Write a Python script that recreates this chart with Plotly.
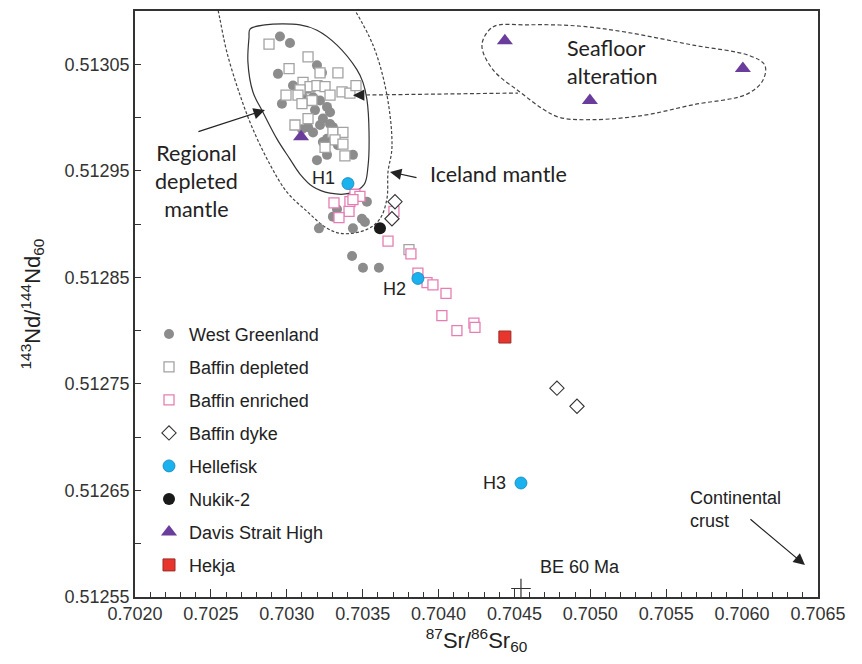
import plotly.graph_objects as go

# ---- Sample compositions (87Sr/86Sr at 60 Ma, 143Nd/144Nd at 60 Ma) ----
wg_sr = [0.702955, 0.703021, 0.703199, 0.702942, 0.703232, 0.703041, 0.70314, 0.7031,
         0.703173, 0.703219, 0.702968, 0.703265, 0.703186, 0.703285, 0.703238, 0.703219,
         0.703285, 0.703304, 0.70314, 0.7031, 0.703173, 0.703265, 0.703318, 0.703238,
         0.703337, 0.703265, 0.703436, 0.703199, 0.703528, 0.703331, 0.703304, 0.703495,
         0.703515, 0.703212, 0.703436, 0.70343, 0.703502, 0.703607]
wg_nd = [0.513076, 0.51307, 0.513049, 0.513041, 0.513042, 0.51303, 0.513027, 0.513021,
         0.513019, 0.513016, 0.513013, 0.51301, 0.513007, 0.513005, 0.512999, 0.512993,
         0.512994, 0.512991, 0.512991, 0.512989, 0.512986, 0.51298, 0.512981, 0.512977,
         0.512974, 0.512965, 0.512965, 0.51296, 0.512921, 0.512914, 0.512907, 0.512905,
         0.512902, 0.512896, 0.512896, 0.51287, 0.512859, 0.512859]

bd_sr = [0.702883, 0.70314, 0.703015, 0.703219, 0.703337, 0.703107, 0.703153, 0.703199,
         0.703252, 0.703087, 0.702995, 0.703074, 0.703166, 0.703285, 0.7031, 0.703364,
         0.703416, 0.703456, 0.70314, 0.703054, 0.703304, 0.70337, 0.703318, 0.703252,
         0.70337, 0.703383, 0.703805]
bd_nd = [0.513069, 0.513057, 0.513046, 0.513042, 0.513042, 0.513033, 0.513029, 0.51303,
         0.513029, 0.513026, 0.513021, 0.513021, 0.513016, 0.513021, 0.513013, 0.513024,
         0.513023, 0.51303, 0.512999, 0.512993, 0.512986, 0.512986, 0.512979, 0.512972,
         0.512975, 0.512964, 0.512876]

be_sr = [0.703311, 0.703416, 0.703449, 0.703482, 0.703436, 0.70341, 0.703344, 0.703706,
         0.703667, 0.703818, 0.703864, 0.703924, 0.703963, 0.704049, 0.704022, 0.704121,
         0.704233, 0.70424]
be_nd = [0.51292, 0.512921, 0.512928, 0.512926, 0.512923, 0.512912, 0.512906, 0.512912,
         0.512884, 0.512872, 0.512854, 0.512845, 0.512843, 0.512835, 0.512814, 0.5128,
         0.512807, 0.512803]

dyke_sr = [0.703713, 0.703693, 0.70478, 0.704912]
dyke_nd = [0.512921, 0.512905, 0.512746, 0.512729]

hf_sr = [0.703403, 0.703864, 0.704543]
hf_nd = [0.512938, 0.512849, 0.512657]
hf_labels = ["H1", "H2", "H3"]

nk_sr = [0.703614]
nk_nd = [0.512896]

ds_sr = [0.704437, 0.704997, 0.706005, 0.703094]
ds_nd = [0.513072, 0.513016, 0.513046, 0.512982]

hk_sr = [0.704437]
hk_nd = [0.512794]

bulk_earth_sr = [0.704543]
bulk_earth_nd = [0.512558]

# ---- Field outlines ----
depleted_sr = [0.702758, 0.702856, 0.703087, 0.703199, 0.703331, 0.703462, 0.703502, 0.703528,
               0.703542, 0.703535, 0.703509, 0.703416, 0.703285, 0.703173, 0.703087, 0.703021,
               0.702935, 0.702843, 0.702777, 0.702744, 0.702751, 0.702758]
depleted_nd = [0.513083, 0.513087, 0.513087, 0.513082, 0.513068, 0.513045, 0.513033, 0.513017,
               0.512986, 0.512954, 0.512937, 0.512929, 0.512929, 0.512935, 0.512947, 0.512961,
               0.51298, 0.513005, 0.513024, 0.513052, 0.513075, 0.513083]

iceland_sr = [0.702535, 0.70256, 0.702606, 0.702692, 0.702777, 0.702889, 0.703001, 0.703133,
              0.703265, 0.70337, 0.703528, 0.703614, 0.70366, 0.703667, 0.703693, 0.70366,
              0.703568, 0.70341]
iceland_nd = [0.51311, 0.513092, 0.513061, 0.513021, 0.512989, 0.512956, 0.51293, 0.512912,
              0.512896, 0.512891, 0.512895, 0.512905, 0.512924, 0.512949, 0.512972, 0.513021,
              0.513068, 0.51311]

seafloor_sr = [0.704286, 0.704358, 0.704582, 0.704912, 0.705241, 0.705676, 0.706051, 0.70615,
               0.706137, 0.706032, 0.705676, 0.705347, 0.705017, 0.7048, 0.704688, 0.704536,
               0.704358, 0.704286]
seafloor_nd = [0.513068, 0.513085, 0.513087, 0.513086, 0.51308, 0.513068, 0.513058, 0.513049,
               0.513035, 0.513022, 0.513012, 0.513002, 0.512998, 0.513, 0.513008, 0.513024,
               0.513045, 0.513068]

link_sr = [0.703436, 0.704523]
link_nd = [0.513021, 0.513023]

# ---- Axes ----
x_ticks = [0.7020, 0.7025, 0.7030, 0.7035, 0.7040, 0.7045, 0.7050, 0.7055, 0.7060, 0.7065]
y_ticks = [0.51255, 0.51265, 0.51275, 0.51285, 0.51295, 0.51305]

ARIAL = "Liberation Sans, Arial, sans-serif"
SOFT = "Lato, Calibri, sans-serif"
INK = "#222222"

fig = go.Figure()

# field outlines
fig.add_trace(go.Scatter(x=depleted_sr, y=depleted_nd, mode="lines", showlegend=False,
                         hoverinfo="skip",
                         line=dict(color="#333333", width=1.2, shape="spline", smoothing=1.0)))
fig.add_trace(go.Scatter(x=iceland_sr, y=iceland_nd, mode="lines", showlegend=False,
                         hoverinfo="skip",
                         line=dict(color="#444444", width=1.2, dash="3px,2px",
                                   shape="spline", smoothing=1.0)))
fig.add_trace(go.Scatter(x=seafloor_sr, y=seafloor_nd, mode="lines", showlegend=False,
                         hoverinfo="skip",
                         line=dict(color="#444444", width=1.2, dash="4px,2.5px",
                                   shape="spline", smoothing=1.0)))
fig.add_trace(go.Scatter(x=link_sr, y=link_nd, mode="lines", showlegend=False,
                         hoverinfo="skip",
                         line=dict(color="#444444", width=1.2, dash="4px,2.5px")))

# sample groups
fig.add_trace(go.Scatter(x=wg_sr, y=wg_nd, mode="markers", name="West Greenland",
                         legendgroup="g1",
                         marker=dict(symbol="circle", size=10, color="#8c8c8c")))
fig.add_trace(go.Scatter(x=bd_sr, y=bd_nd, mode="markers", name="Baffin depleted",
                         legendgroup="g2",
                         marker=dict(symbol="square", size=10, color="white",
                                     line=dict(color="#a3a3a3", width=1.3))))
fig.add_trace(go.Scatter(x=be_sr, y=be_nd, mode="markers", name="Baffin enriched",
                         legendgroup="g3",
                         marker=dict(symbol="square", size=10, color="white",
                                     line=dict(color="#e77db4", width=1.3))))
fig.add_trace(go.Scatter(x=dyke_sr, y=dyke_nd, mode="markers", name="Baffin dyke",
                         legendgroup="g4",
                         marker=dict(symbol="diamond", size=11, color="white",
                                     line=dict(color="#333333", width=1.1))))
fig.add_trace(go.Scatter(x=hf_sr, y=hf_nd, mode="markers", name="Hellefisk",
                         legendgroup="g5",
                         marker=dict(symbol="circle", size=12, color="#19b1ee",
                                     line=dict(color="#1684b5", width=0.8))))
fig.add_trace(go.Scatter(x=nk_sr, y=nk_nd, mode="markers", name="Nukik-2",
                         legendgroup="g6",
                         marker=dict(symbol="circle", size=12, color="#1a1a1a")))
fig.add_trace(go.Scatter(x=ds_sr, y=ds_nd, mode="markers", name="Davis Strait High",
                         legendgroup="g7",
                         marker=dict(symbol="triangle-up", size=14, color="#6a3d9c")))
fig.add_trace(go.Scatter(x=hk_sr, y=hk_nd, mode="markers", name="Hekja",
                         legendgroup="g8",
                         marker=dict(symbol="square", size=12, color="#e8352e",
                                     line=dict(color="#9e2a22", width=1))))
fig.add_trace(go.Scatter(x=bulk_earth_sr, y=bulk_earth_nd, mode="markers", showlegend=False,
                         marker=dict(symbol="cross-thin", size=14,
                                     line=dict(color="#333333", width=1.2))))

annotations = []

# Hellefisk sample labels
label_shift = {"H1": (-11, 6), "H2": (-10, -11), "H3": (-13, 0)}
for sr, nd, lab in zip(hf_sr, hf_nd, hf_labels):
    dx, dy = label_shift[lab]
    annotations.append(dict(x=sr, y=nd, text=lab, showarrow=False, xanchor="right",
                            yanchor="middle", xshift=dx, yshift=dy,
                            font=dict(family=ARIAL, size=18, color=INK)))

annotations.append(dict(x=bulk_earth_sr[0], y=bulk_earth_nd[0], text="BE 60 Ma",
                        showarrow=False, xanchor="left", yanchor="middle",
                        xshift=17, yshift=21, font=dict(family=ARIAL, size=18, color=INK)))

# field names
annotations += [
    dict(x=0.702402, y=0.51294, text="Regional<br>depleted<br>mantle", showarrow=False,
         xanchor="center", yanchor="middle", align="center",
         font=dict(family=SOFT, size=21.5, color=INK)),
    dict(x=0.704835, y=0.513052, text="Seafloor<br>alteration", showarrow=False,
         xanchor="left", yanchor="middle", align="left",
         font=dict(family=SOFT, size=21.5, color=INK)),
    dict(x=0.70393, y=0.512947, text="Iceland mantle", showarrow=False,
         xanchor="left", yanchor="middle",
         font=dict(family=SOFT, size=21.5, color=INK)),
    dict(x=0.705643, y=0.512632, text="Continental<br>crust", showarrow=False,
         xanchor="left", yanchor="middle", align="left",
         font=dict(family=ARIAL, size=18, color=INK)),
]

# pointer arrows
arrow_style = dict(text="", showarrow=True, arrowhead=2, arrowsize=1.9, arrowwidth=1.2,
                   arrowcolor="#222222", axref="pixel", ayref="pixel")
annotations += [
    dict(x=0.702856, y=0.513007, ax=-68, ay=22, **arrow_style),
    dict(x=0.70368, y=0.512949, ax=28, ay=6, **arrow_style),
    dict(x=0.706414, y=0.51258, ax=-56, ay=-47, **arrow_style),
    dict(x=link_sr[0], y=link_nd[0], ax=10, ay=0, **arrow_style),
]

axis_common = dict(showgrid=False, zeroline=False, showline=True, mirror=True,
                   linecolor="#333333", linewidth=1.5, ticks="inside",
                   tickcolor="#333333", tickwidth=1,
                   tickfont=dict(family=ARIAL, size=18, color="#333333"))

fig.update_layout(
    width=862, height=664,
    margin=dict(l=135, r=44, t=9, b=67),
    paper_bgcolor="white", plot_bgcolor="white",
    xaxis=dict(range=[0.7020, 0.7065], tickmode="array", tickvals=x_ticks,
               ticktext=[f"{v:.4f}" for v in x_ticks], ticklen=8,
               minor=dict(tick0=0.7020, dtick=0.0001, ticks="inside", ticklen=5,
                          tickcolor="#333333", tickwidth=1),
               title=dict(text="<sup>87</sup>Sr/<sup>86</sup>Sr<sub>60</sub>",
                          font=dict(family=ARIAL, size=22, color=INK), standoff=9),
               **axis_common),
    yaxis=dict(range=[0.51255, 0.51310], tickmode="array", tickvals=y_ticks,
               ticktext=[f"{v:.5f}" for v in y_ticks], ticklen=6,
               minor=dict(tick0=0.51255, dtick=0.00005, ticks="inside", ticklen=6,
                          tickcolor="#333333", tickwidth=1),
               title=dict(text="<sup>143</sup>Nd/<sup>144</sup>Nd<sub>60</sub>",
                          font=dict(family=ARIAL, size=22, color=INK), standoff=18),
               **axis_common),
    legend=dict(x=0.0205, y=0.48, xanchor="left", yanchor="top",
                font=dict(family=ARIAL, size=18, color=INK),
                bgcolor="rgba(0,0,0,0)", tracegroupgap=6.6, traceorder="grouped"),
    annotations=annotations,
    showlegend=True,
)

fig.write_html("out.html")
